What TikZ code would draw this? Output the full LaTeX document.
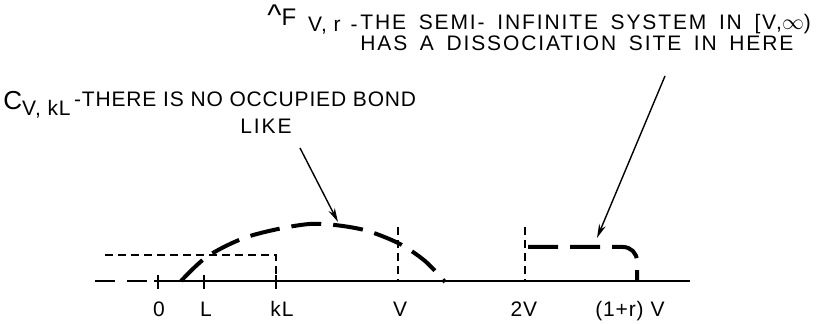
\documentclass[tikz,border=0pt]{standalone}
\usepackage{fontspec}
\setmainfont{Liberation Sans}
\usetikzlibrary{arrows.meta,positioning}
\newcommand\lblfont{\fontsize{10.5}{9.5}\selectfont\addfontfeature{LetterSpace=4}\relax}
\newcommand\widefont{\fontsize{10.5}{9.5}\selectfont\addfontfeature{LetterSpace=9}\spaceskip=0.6em\relax}

\begin{document}
\begin{tikzpicture}[x=0.5pt,y=-0.5pt,
  axis/.style={line width=0.8pt},
  thindash/.style={line width=0.7pt,dash pattern=on 4pt off 2.5pt},
  thickdash/.style={line width=2pt,dash pattern=on 15pt off 6pt},
  lbl/.style={inner sep=0pt,font=\lblfont},
  wide/.style={inner sep=0pt,font=\widefont},
  arr/.style={-{Stealth[length=7pt,width=3.5pt]},line width=0.7pt}
]
\useasboundingbox (0,0) rectangle (825,324);

% axis and ticks
\coordinate (xl) at (95,281);
\coordinate (xs) at (154,281);
\coordinate (xr) at (690,281);
\coordinate (t0) at (158,281);
\coordinate (tL) at (204,281);
\coordinate (tkL) at (276,281);
\coordinate (tV) at (398,281);
\coordinate (t2V) at (525,281);
\coordinate (trV) at (637,281);
\draw[axis,dash pattern=on 10pt off 6pt] (xl) -- (xs);
\draw[axis] (xs) -- (xr);
\foreach \t in {t0,tL,tkL}
  \draw[axis] ([yshift=3pt]\t) -- ([yshift=-4pt]\t);

% tick labels
\node[lbl,anchor=base] (n0) at (159,317) {0};
\node[lbl,anchor=base] (nL) at (206,317) {L};
\node[lbl,anchor=base] (nkL) at (282,317) {kL};
\node[lbl,anchor=base] (nV) at (400,317) {V};
\node[lbl,anchor=base] (n2V) at (524,317) {2V};
\node[lbl,anchor=base] (nrV) at (630,317) {(1+r)\,\,V};

% dashed box and markers
\draw[thindash] (105,255) -- (276,255) -- (tkL);
\draw[thindash] (398,227) -- (tV);
\draw[thindash] (525,227) -- (t2V);

% occupied bond curve
\draw[thickdash] plot[smooth] coordinates
  {(181,281) (208,256) (250,236) (310,224) (360,229) (398,243) (425,261) (445,282)};
\coordinate (cpk) at (338,222);

% dissociation site
\draw[thickdash,rounded corners=7pt] (528,247) -- (637,247) -- (trV);
\coordinate (fpk) at (597,238);

% labels
\node[lbl,anchor=base west] (clbl) at (3,110)
  {{\fontsize{13}{13}\selectfont C}\raisebox{-3pt}{V, kL}\raisebox{1.5pt}{\,-THERE IS NO OCCUPIED BOND}};
\node[wide,anchor=base] (like) at (266,134) {LIKE};
\node[wide,anchor=base west,align=left] (ftxt) at (360,51)
  {THE SEMI- INFINITE SYSTEM IN [V,$\infty$)\\HAS A DISSOCIATION SITE IN HERE};
\node[lbl,anchor=base east] (flbl) at (358,32)
  {\raisebox{3pt}{\fontsize{12}{12}\selectfont{\fontsize{15}{15}\selectfont\^{}}F}\hspace{6pt}V, r\hspace{5pt}-};

% arrows
\coordinate (ca) at (300,148);
\coordinate (fa) at (665,76);
\draw[arr] (ca) -- (cpk);
\draw[arr] (fa) -- (fpk);
\end{tikzpicture}
\end{document}
